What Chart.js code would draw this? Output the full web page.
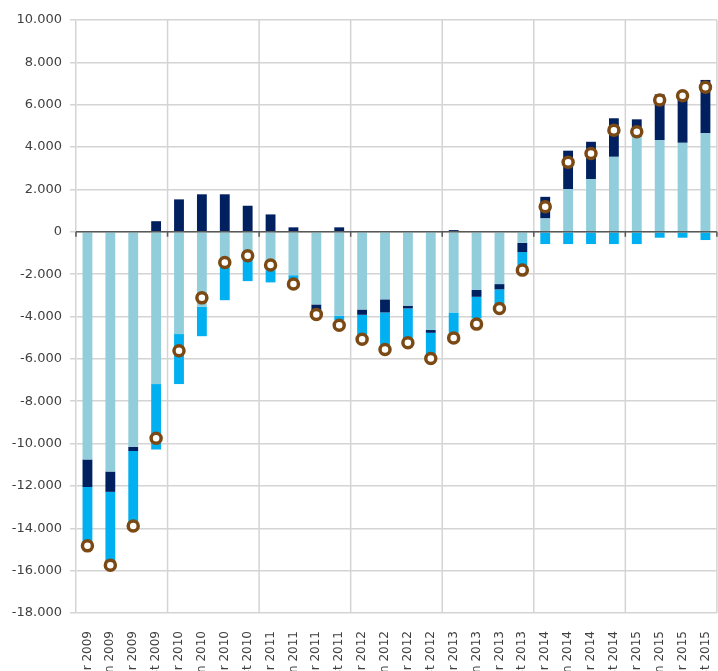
<!DOCTYPE html>
<html>
<head>
<meta charset="utf-8">
<script src="https://cdn.jsdelivr.net/npm/chart.js@4.4.1/dist/chart.umd.min.js"></script>
<style>
  html, body { margin: 0; padding: 0; background: #fff; overflow: hidden; }
  #chart { display: block; }
</style>
</head>
<body>
<canvas id="chart" width="730" height="690"></canvas>
<script>
// categories
const years = [2009, 2010, 2011, 2012, 2013, 2014, 2015];
const quarters = ['1r', '2n', '3r', '4t'];
const labels = [];
years.forEach(y => quarters.forEach(q => labels.push(q + ' ' + y)));

// series (stacked bars)
const lightBlue = [-10750, -11320, -10150, -7190, -4830, -3540, -1650, -1340,
  -1810, -2050, -3430, -3970, -3670, -3190, -3490, -4640,
  -3810, -2750, -2470, -520, 630, 2020, 2490, 3540,
  4490, 4330, 4200, 4650];
const navy = [-1300, -960, -200, 500, 1530, 1770, 1770, 1230,
  820, 210, -270, 210, -250, -620, -130, -130,
  80, -320, -250, -440, 1020, 1810, 1760, 1820,
  820, 2160, 2180, 2520];
const brightBlue = [-2700, -3370, -3430, -3090, -2360, -1390, -1580, -990,
  -580, -200, 0, -200, -960, -1540, -1420, -1010,
  -960, -1020, -700, -610, -580, -580, -580, -580,
  -580, -280, -280, -390];
// total (circle markers)
const total = [-14830, -15740, -13890, -9750, -5620, -3120, -1450, -1130,
  -1570, -2470, -3900, -4410, -5070, -5560, -5240, -5980,
  -5010, -4360, -3620, -1810, 1180, 3280, 3700, 4800,
  4720, 6220, 6420, 6820];

// y tick labels
const yMin = -18000, yMax = 10000, yStep = 2000;

function fmt(v) {
  const s = Math.abs(v).toString().replace(/\B(?=(\d{3})+(?!\d))/g, '.');
  return (v < 0 ? '-' : '') + s;
}

// vertical lines between years, then the zero axis with its tick marks
const yearLines = {
  id: 'yearLines',
  beforeDatasetsDraw(chart) {
    const {ctx, scales: {x, y}} = chart;
    const step = (x.right - x.left) / labels.length;
    ctx.save();
    ctx.strokeStyle = '#d4d4d4';
    ctx.lineWidth = 1.5;
    ctx.beginPath();
    for (let i = 4; i <= labels.length; i += 4) {
      const px = x.left + i * step;
      ctx.moveTo(px, y.top);
      ctx.lineTo(px, y.bottom);
    }
    ctx.stroke();
    ctx.restore();
  },
  afterDatasetsDraw(chart) {
    const {ctx, scales: {x, y}} = chart;
    const y0 = y.getPixelForValue(0);
    const step = (x.right - x.left) / labels.length;
    ctx.save();
    ctx.strokeStyle = '#595959';
    ctx.lineWidth = 1.5;
    ctx.beginPath();
    ctx.moveTo(x.left, y0);
    ctx.lineTo(x.right, y0);
    for (let i = 0; i <= labels.length; i += 4) {
      const px = x.left + i * step;
      ctx.moveTo(px, y0);
      ctx.lineTo(px, y0 + 5);
    }
    ctx.stroke();
    ctx.restore();
  }
};

new Chart(document.getElementById('chart'), {
  type: 'bar',
  data: {
    labels: labels,
    datasets: [
      {label: 'a', data: lightBlue, backgroundColor: '#92CDDC', stack: 's', order: 1},
      {label: 'b', data: navy, backgroundColor: '#002060', stack: 's', order: 1},
      {label: 'c', data: brightBlue, backgroundColor: '#00B0F0', stack: 's', order: 1},
      {
        type: 'line', label: 'total', data: total, stack: 'm', order: 0,
        showLine: false, pointStyle: 'circle', pointRadius: 5, pointBorderWidth: 3.5,
        pointBorderColor: '#7B4A14', pointBackgroundColor: '#ffffff'
      }
    ]
  },
  options: {
    responsive: false,
    animation: false,
    layout: {padding: {top: 20, right: 8, left: 0, bottom: 0}},
    datasets: {bar: {barPercentage: 0.43, categoryPercentage: 1}},
    plugins: {legend: {display: false}, tooltip: {enabled: false}},
    scales: {
      x: {
        stacked: true,
        afterFit: s => { s.height = 77; },
        grid: {display: false},
        border: {display: false},
        ticks: {
          autoSkip: false, minRotation: 90, maxRotation: 90, padding: 10,
          color: '#404040', font: {family: 'DejaVu Sans', size: 12}
        }
      },
      y: {
        stacked: true,
        min: yMin, max: yMax,
        afterFit: s => { s.width = 76; },
        grid: {color: '#d4d4d4', lineWidth: 1.5, tickLength: 6},
        border: {display: true, color: '#d4d4d4', width: 1.5},
        ticks: {
          stepSize: yStep, padding: 8, color: '#404040',
          font: {family: 'DejaVu Sans', size: 13},
          callback: v => fmt(v)
        }
      }
    }
  },
  plugins: [yearLines]
});
</script>
</body>
</html>
